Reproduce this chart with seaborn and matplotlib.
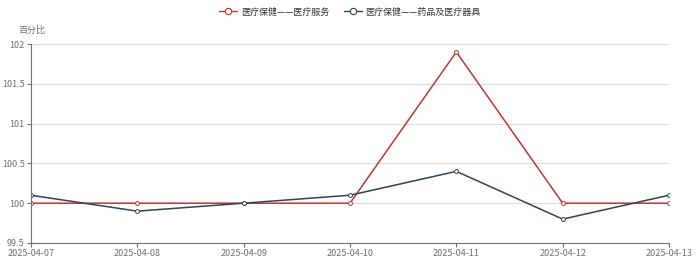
import matplotlib
matplotlib.use("Agg")
import matplotlib.pyplot as plt
import seaborn as sns
import pandas as pd
from matplotlib.lines import Line2D

dates = ["2025-04-07", "2025-04-08", "2025-04-09", "2025-04-10", "2025-04-11", "2025-04-12", "2025-04-13"]
series_names = ["医疗保健——医疗服务", "医疗保健——药品及医疗器具"]
medical_services = [100, 100, 100, 100, 101.9, 100, 100]
medicine_devices = [100.1, 99.9, 100, 100.1, 100.4, 99.8, 100.1]
y_ticks = [99.5, 100, 100.5, 101, 101.5, 102]
colors = ["#c23531", "#2f4554"]

sns.set_theme(style="white")
plt.rcParams['font.family'] = ['Noto Sans CJK SC', 'DejaVu Sans']

df = pd.DataFrame({
    "idx": list(range(len(dates))) * 2,
    "value": medical_services + medicine_devices,
    "series": [series_names[0]] * len(dates) + [series_names[1]] * len(dates),
})

fig = plt.figure(figsize=(7, 2.63), dpi=100)
ax = fig.add_axes([31 / 700, 1 - 243 / 263, (669 - 31) / 700, (243 - 44) / 263])

sns.lineplot(data=df, x="idx", y="value", hue="series", palette=colors,
             marker="o", markersize=2.8, markerfacecolor="white",
             markeredgewidth=0.7, linewidth=1.1, ax=ax, legend=False)
for line, c in zip(ax.lines, colors):
    line.set_markeredgecolor(c)

ax.set_xlim(0, len(dates) - 1)
ax.set_ylim(99.5, 102)
ax.set_yticks(y_ticks)
ax.set_yticklabels([f"{v:g}" for v in y_ticks])
ax.set_xticks(range(len(dates)))
ax.set_xticklabels(dates)
ax.set_xlabel("")
ax.set_ylabel("")
ax.grid(axis="y", color="#dcdcdc", linewidth=0.8)
ax.grid(axis="x", visible=False)
for s in ["top", "right"]:
    ax.spines[s].set_visible(False)
for s in ["left", "bottom"]:
    ax.spines[s].set_color("#6e7079")
    ax.spines[s].set_linewidth(0.8)
ax.tick_params(axis="both", colors="#6e7079", labelsize=6.5, length=3, width=0.8,
               direction="out", bottom=True, left=True, pad=1.5)

fig.text(18 / 700, 1 - 30 / 263, "百分比", fontsize=6.5, color="#6e7079", va="center", ha="left")

handles = [Line2D([0], [0], color=c, marker="o", markersize=4.5, markerfacecolor="white",
                  markeredgecolor=c, linewidth=1.0, markeredgewidth=0.8) for c in colors]
fig.legend(handles, series_names, loc="center", bbox_to_anchor=(0.5, 1 - 12 / 263), ncol=2,
           frameon=False, fontsize=6.5, handlelength=2.0, columnspacing=1.6, handletextpad=0.4,
           labelcolor="#333333")

fig.savefig("out.png", dpi=100)
